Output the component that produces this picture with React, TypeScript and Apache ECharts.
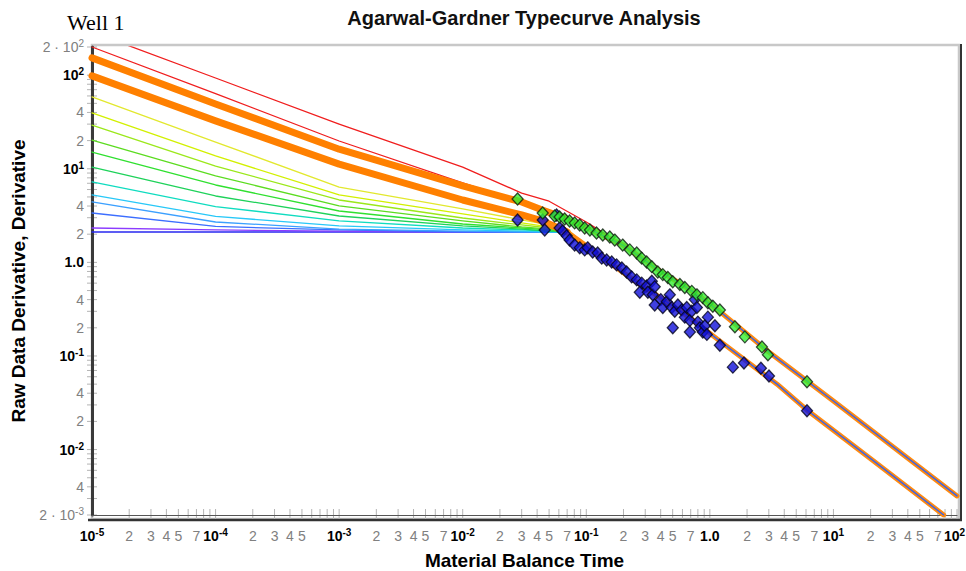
import React, { useEffect, useRef } from "react";
import * as echarts from "echarts";

const FONT = "'Liberation Sans', Arial, Helvetica, sans-serif";
const SERIF = "'Liberation Serif', 'Times New Roman', serif";

const X_MIN = 1e-5;
const X_MAX = 1e2;
const Y_MIN = 2e-3;
const Y_MAX = 2e2;

const X_DECADES = [-5, -4, -3, -2, -1, 0, 1, 2];
const X_MINOR_LABELS = [2, 3, 4, 5, 7];
const Y_DECADES = [-2, -1, 0, 1, 2];
const Y_MINOR_LABELS = [2, 4];

const TITLE = "Agarwal-Gardner Typecurve Analysis";
const WELL = "Well 1";
const X_NAME = "Material Balance Time";
const Y_NAME = "Raw Data Derivative, Derivative";

// typecurve family (x positions shared)
const TC_X = [1e-5, 1e-4, 1e-3, 1e-2, 3e-2, 5e-2, 7e-2];
const TC_1 = [58.5, 19.3, 6.38, 3.72, 2.84, 2.51, 2.27];
const TC_2 = [39.6, 13.7, 5.25, 3.29, 2.64, 2.39, 2.22];
const TC_3 = [29.3, 10.7, 4.64, 2.98, 2.51, 2.33, 2.16];
const TC_4 = [20.2, 8.4, 4.01, 2.77, 2.39, 2.27, 2.16];
const TC_5 = [15.1, 6.71, 3.54, 2.57, 2.33, 2.22, 2.11];
const TC_6 = [10.4, 5.12, 3.13, 2.45, 2.27, 2.16, 2.11];
const TC_7 = [7.24, 3.95, 2.77, 2.33, 2.22, 2.16, 2.11];
const TC_8 = [5.25, 3.1, 2.45, 2.22, 2.16, 2.11, 2.11];
const TC_9 = [4.42, 2.7, 2.27, 2.16, 2.11, 2.11, 2.11];
const TC_10 = [3.37, 2.42, 2.22, 2.11, 2.11, 2.11, 2.11];
const TC_11 = [2.33, 2.22, 2.16, 2.11, 2.11, 2.11, 2.11];
const TC_12 = [2.11, 2.11, 2.11, 2.11, 2.11, 2.11, 2.11];
const TC_FAMILY = [TC_1, TC_2, TC_3, TC_4, TC_5, TC_6, TC_7, TC_8, TC_9, TC_10, TC_11, TC_12];
const TC_COLORS = [
  "#e2e82e", "#d2f000", "#9be81a", "#5cdc20", "#30e030", "#1ed25a",
  "#10dcc0", "#28c8f8", "#3ca0ff", "#3c6eff", "#8c3cff", "#2828f0",
];

// matched curves
const UPPER_X = [1e-5, 1e-4, 1e-3, 1e-2, 3e-2, 0.044, 0.067, 0.1, 0.2, 0.4, 0.78, 1.2, 3, 10, 100];
const UPPER_Y = [153, 49.3, 16.2, 6.55, 4.42, 3.63, 2.98, 2.35, 1.52, 0.8, 0.46, 0.3, 0.11, 0.033, 0.0032];
const LOWER_X = [1e-5, 1e-4, 1e-3, 1e-2, 3e-2, 0.044, 0.07, 0.1, 0.15, 0.24, 0.35, 0.65, 1.2, 3.5, 6.1, 20, 78];
const LOWER_Y = [98.3, 32.5, 11.2, 4.64, 3.21, 2.77, 2.11, 1.5, 1.02, 0.65, 0.47, 0.27, 0.145, 0.05, 0.0265, 0.008, 0.002];
const RED1_X = [1e-5, 1e-4, 1e-3, 1e-2, 3e-2, 5e-2, 0.1, 0.128, 0.2];
const RED1_Y = [289, 93.3, 30.0, 10.4, 5.5, 4.5, 2.7, 2.2, 1.52];
const RED2_X = [1e-5, 1e-4, 1e-3, 1e-2, 3e-2];
const RED2_Y = [200, 63.5, 19.8, 7.06, 4.42];

// data points
const GREEN_X = [0.0278, 0.0444, 0.0555, 0.0608, 0.0668, 0.0733, 0.0805, 0.0885, 0.0971, 0.107, 0.121, 0.136, 0.155, 0.17, 0.197, 0.225, 0.256, 0.281, 0.308, 0.339, 0.379, 0.416, 0.457, 0.501, 0.572, 0.627, 0.714, 0.785, 0.877, 0.964, 1.057, 1.205, 1.595, 1.92, 2.64, 2.95, 6.11];
const GREEN_Y = [4.76, 3.37, 3.13, 3.06, 2.91, 2.77, 2.64, 2.51, 2.33, 2.22, 2.06, 1.96, 1.87, 1.73, 1.53, 1.36, 1.26, 1.11, 1.01, 0.9, 0.79, 0.74, 0.69, 0.62, 0.58, 0.54, 0.49, 0.45, 0.42, 0.37, 0.34, 0.31, 0.205, 0.16, 0.125, 0.103, 0.053];
const BLUE_X = [0.0278, 0.0444, 0.0461, 0.0575, 0.0608, 0.0644, 0.0693, 0.0733, 0.0805, 0.0885, 0.0971, 0.1026, 0.1127, 0.1236, 0.1334, 0.1462, 0.1606, 0.176, 0.194, 0.212, 0.233, 0.256, 0.281, 0.308, 0.339, 0.271, 0.315, 0.345, 0.358, 0.401, 0.358, 0.416, 0.448, 0.474, 0.492, 0.52, 0.551, 0.593, 0.627, 0.65, 0.689, 0.714, 0.755, 0.785, 0.8, 0.83, 0.877, 0.912, 0.946, 0.964, 1.099, 1.205, 0.501, 0.689, 1.535, 1.888, 2.59, 3.01, 6.11];
const BLUE_Y = [2.84, 2.84, 2.22, 3.21, 2.33, 2.16, 1.92, 1.73, 1.53, 1.43, 1.36, 1.43, 1.29, 1.26, 1.11, 1.06, 1.01, 0.94, 0.87, 0.79, 0.7, 0.65, 0.6, 0.56, 0.63, 0.48, 0.48, 0.45, 0.55, 0.4, 0.35, 0.33, 0.38, 0.45, 0.33, 0.3, 0.35, 0.31, 0.26, 0.33, 0.24, 0.3, 0.4, 0.33, 0.23, 0.2, 0.18, 0.21, 0.17, 0.26, 0.21, 0.13, 0.2, 0.18, 0.076, 0.084, 0.074, 0.061, 0.026];

const zip = (xs: number[], ys: number[]) => xs.map((x, i) => [x, ys[i]]);
const pw = (m: number, d: number) => Number((m * Math.pow(10, d)).toPrecision(12));

function expRich(base: string, exp: string, bold: boolean, color: string) {
  return {
    text: `{b|${base}}{s|${exp}}`,
    rich: {
      b: { fontSize: 14, fontWeight: bold ? "bold" : "normal", fontFamily: FONT, fill: color },
      s: { fontSize: 10, fontWeight: bold ? "bold" : "normal", fontFamily: FONT, fill: color, verticalAlign: "top", padding: [0, 0, 7, 0] },
    },
  };
}

function buildGraphics(chart: any) {
  const els: any[] = [];
  const xp = (v: number) => chart.convertToPixel({ xAxisIndex: 0 }, v) as number;
  const yp = (v: number) => chart.convertToPixel({ yAxisIndex: 0 }, v) as number;
  const left = xp(X_MIN);
  const right = xp(X_MAX);
  const top = yp(Y_MAX);
  const bottom = yp(Y_MIN);

  // frame
  els.push({ type: "rect", silent: true, z: -10, shape: { x: left, y: top - 2, width: right + 2 - left, height: bottom + 6 - top }, style: { fill: "none", stroke: "#c8c8c8", lineWidth: 2.5 } });
  els.push({ type: "line", silent: true, shape: { x1: right + 4, y1: top - 3, x2: right + 4, y2: bottom + 6 }, style: { stroke: "#333", lineWidth: 2 } });
  els.push({ type: "line", silent: true, shape: { x1: left - 4, y1: bottom + 5, x2: right + 5, y2: bottom + 5 }, style: { stroke: "#333", lineWidth: 2.5 } });

  // x ticks
  X_DECADES.forEach((d) => {
    for (let m = 1; m <= 9; m++) {
      const v = pw(m, d);
      if (v > X_MAX * 1.0001) break;
      const x = xp(v);
      els.push({ type: "line", silent: true, shape: { x1: x, y1: bottom - 6, x2: x, y2: bottom + 4 }, style: { stroke: "#b4b4b4", lineWidth: 1 } });
    }
  });
  // y ticks
  for (let d = -3; d <= 2; d++) {
    for (let m = 1; m <= 9; m++) {
      const v = pw(m, d);
      if (v < Y_MIN * 0.9999 || v > Y_MAX * 1.0001) continue;
      const y = yp(v);
      els.push({ type: "line", silent: true, shape: { x1: left - 5, y1: y, x2: left + 5, y2: y }, style: { stroke: "#b4b4b4", lineWidth: 1 } });
    }
  }

  // x labels
  const xLabelY = bottom + 21;
  X_DECADES.forEach((d) => {
    const x = xp(pw(1, d));
    const st = d === 0
      ? { text: "1.0", fontSize: 14, fontWeight: "bold", fontFamily: FONT, fill: "#000" }
      : expRich("10", String(d), true, "#000");
    const last = d === X_DECADES[X_DECADES.length - 1];
    els.push({ type: "text", silent: true, x: last ? 965 : x, y: xLabelY, style: { ...st, align: last ? "right" : "center", verticalAlign: "middle" } });
    if (d < 2) {
      X_MINOR_LABELS.forEach((m) => {
        if (d === -4 && m === 7) return;
        els.push({ type: "text", silent: true, x: xp(pw(m, d)), y: xLabelY, style: { text: String(m), fontSize: 14, fontFamily: FONT, fill: "#808080", align: "center", verticalAlign: "middle" } });
      });
    }
  });

  // y labels
  const yLabelX = left - 8;
  Y_DECADES.forEach((d) => {
    const y = yp(pw(1, d));
    const st = d === 0
      ? { text: "1.0", fontSize: 14, fontWeight: "bold", fontFamily: FONT, fill: "#000" }
      : expRich("10", String(d), true, "#000");
    els.push({ type: "text", silent: true, x: yLabelX, y, style: { ...st, align: "right", verticalAlign: "middle" } });
  });
  for (let d = -3; d <= 1; d++) {
    Y_MINOR_LABELS.forEach((m) => {
      const v = pw(m, d);
      if (Math.abs(v - Y_MIN) < 1e-9) return;
      els.push({ type: "text", silent: true, x: yLabelX, y: yp(v), style: { text: String(m), fontSize: 14, fontFamily: FONT, fill: "#808080", align: "right", verticalAlign: "middle" } });
    });
  }
  els.push({ type: "text", silent: true, x: yLabelX, y: yp(Y_MAX), style: { ...expRich("2 · 10", "2", false, "#808080"), align: "right", verticalAlign: "middle" } });
  els.push({ type: "text", silent: true, x: yLabelX, y: yp(Y_MIN), style: { ...expRich("2 · 10", "-3", false, "#808080"), align: "right", verticalAlign: "middle" } });

  // titles
  els.push({ type: "text", silent: true, x: 524, y: 18, style: { text: TITLE, fontSize: 20, fontWeight: "bold", fontFamily: FONT, fill: "#111", align: "center", verticalAlign: "middle" } });
  els.push({ type: "text", silent: true, x: 67, y: 22, style: { text: WELL, fontSize: 22, fontFamily: SERIF, fill: "#000", align: "left", verticalAlign: "middle" } });
  return els;
}

export default function App() {
  const ref = useRef<HTMLDivElement>(null);
  useEffect(() => {
    const chart = echarts.init(ref.current!, null, { renderer: "svg" });
    const line = (data: number[][], color: string, width: number, z = 2) => ({
      type: "line",
      data,
      symbol: "none",
      showSymbol: false,
      silent: true,
      z,
      smooth: false,
      lineStyle: { color, width, cap: "round", join: "round" },
    });
    const series: any[] = [];
    TC_FAMILY.slice().reverse().forEach((ys, ri) => {
      const i = TC_FAMILY.length - 1 - ri;
      const xs = TC_X.concat(LOWER_X.slice(7, 9));
      const yy = ys.concat(LOWER_Y.slice(7, 9));
      series.push(line(zip(xs, yy), TC_COLORS[i], 1.3));
    });
    series.push(line(zip(RED1_X, RED1_Y), "#f01e1e", 1.3));
    series.push(line(zip(RED2_X, RED2_Y), "#f01e1e", 1.3));
    series.push(line(zip(UPPER_X.slice(0, 7), UPPER_Y.slice(0, 7)), "#ff8000", 7, 3));
    series.push(line(zip(LOWER_X.slice(0, 7), LOWER_Y.slice(0, 7)), "#ff8000", 7, 3));
    series.push(line(zip(UPPER_X.slice(5), UPPER_Y.slice(5)), "#ff8a10", 5, 3));
    series.push(line(zip(LOWER_X.slice(5), LOWER_Y.slice(5)), "#ff8a10", 5, 3));
    series.push(line(zip(UPPER_X.slice(7), UPPER_Y.slice(7)), "#3c64e6", 1.4, 4));
    series.push(line(zip(LOWER_X.slice(7), LOWER_Y.slice(7)), "#3c64e6", 1.4, 4));
    series.push({
      type: "scatter", data: zip(BLUE_X, BLUE_Y), symbol: "diamond", symbolSize: [11, 12], z: 5, silent: true,
      itemStyle: { color: "#1010d8", borderColor: "#05051e", borderWidth: 1.3 },
    });
    series.push({
      type: "scatter", data: zip(GREEN_X, GREEN_Y), symbol: "diamond", symbolSize: [11, 12], z: 6, silent: true,
      itemStyle: { color: "#33f033", borderColor: "#0f1e0f", borderWidth: 1.3 },
    });

    chart.setOption({
      animation: false,
      grid: { left: 92, top: 47, right: 9, bottom: 56, containLabel: false, outerBoundsMode: "none" },
      xAxis: {
        type: "log", min: X_MIN, max: X_MAX, logBase: 10,
        name: X_NAME, nameLocation: "middle", nameGap: 36,
        nameTextStyle: { fontSize: 19, fontWeight: "bold", fontFamily: FONT, color: "#000" },
        axisLine: { show: true, lineStyle: { color: "#555", width: 1.2 } },
        axisTick: { show: false }, axisLabel: { show: false }, splitLine: { show: false },
      },
      yAxis: {
        type: "log", min: Y_MIN, max: Y_MAX, logBase: 10,
        name: Y_NAME, nameLocation: "middle", nameGap: 64, nameRotate: 90,
        nameTextStyle: { fontSize: 19, fontWeight: "bold", fontFamily: FONT, color: "#000" },
        axisLine: { show: true, lineStyle: { color: "#3a3a3a", width: 3 } },
        axisTick: { show: false }, axisLabel: { show: false }, splitLine: { show: false },
      },
      series,
    });
    chart.setOption({ graphic: { elements: buildGraphics(chart) } });
    return () => chart.dispose();
  }, []);
  return <div ref={ref} style={{ position: "absolute", left: 0, top: 0, width: 966, height: 571, background: "#fff" }} />;
}
